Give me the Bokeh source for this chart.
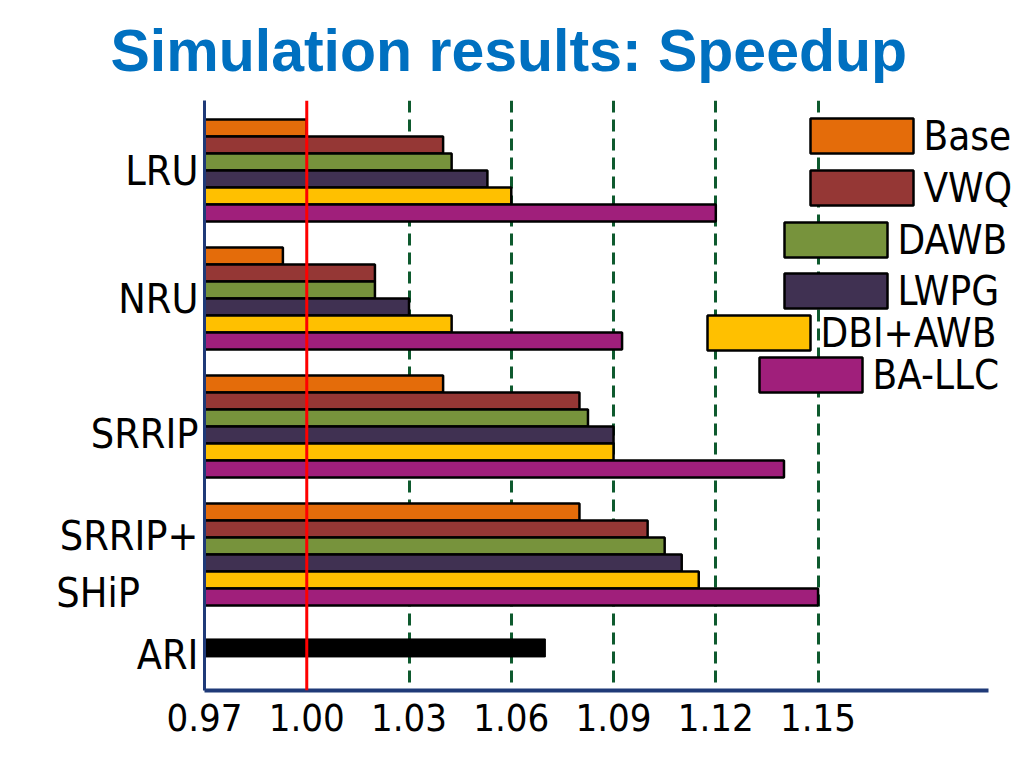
from bokeh.plotting import figure
from bokeh.models import (Range1d, FixedTicker, Span, Label, BoxAnnotation, Title,
                          ColumnDataSource)
from bokeh.embed import file_html
from bokeh.resources import INLINE

# ---------------- data ----------------
policies = ["LRU", "NRU", "SRRIP", "SRRIP+\nSHiP\u00a0\u00a0\u00a0\u00a0\u00a0"]
schemes = ["Base", "VWQ", "DAWB", "LWPG", "DBI+AWB", "BA-LLC"]
colors = ["#E46C0A", "#953735", "#77933C", "#403152", "#FFC000", "#A01F7B"]

base_vals = [1.000, 0.993, 1.040, 1.080]
vwq_vals = [1.040, 1.020, 1.080, 1.100]
dawb_vals = [1.0425, 1.020, 1.0825, 1.105]
lwpg_vals = [1.053, 1.030, 1.090, 1.110]
dbi_vals = [1.060, 1.0425, 1.090, 1.115]
ballc_vals = [1.120, 1.0925, 1.140, 1.150]
series = [base_vals, vwq_vals, dawb_vals, lwpg_vals, dbi_vals, ballc_vals]

ari_label = "ARI"
ari_val = 1.070

baseline = 1.00
x_ticks = [0.97, 1.00, 1.03, 1.06, 1.09, 1.12, 1.15]
x_start, x_axis_end = 0.97, 1.20

# ---------------- layout ----------------
FRAME_L, FRAME_T, FRAME_B = 204, 100, 690      # page px
PPU = (988 - 204) / (x_axis_end - x_start)     # px per data unit
FRAME_R = 1018
x_view_end = x_start + (FRAME_R - FRAME_L) / PPU
GROUP0_PX, GROUP_STEP = 170, 128
ARI_POS = 3.73
BAR_H = 17 / GROUP_STEP
LABEL_SHIFT_PX = [0, 0, 7, 10, 7]

y_top = (FRAME_T - GROUP0_PX) / GROUP_STEP
y_bot = (FRAME_B - GROUP0_PX) / GROUP_STEP

def dx(px):
    return x_start + (px - FRAME_L) / PPU

def dy(py):
    return (py - GROUP0_PX) / GROUP_STEP

p = figure(frame_width=FRAME_R - FRAME_L, frame_height=FRAME_B - FRAME_T,
           x_range=Range1d(x_start, x_view_end), y_range=Range1d(y_bot, y_top),
           output_backend="svg", toolbar_location=None,
           min_border_left=FRAME_L, min_border_right=2,
           min_border_top=FRAME_T, min_border_bottom=70)
p.outline_line_color = None
p.background_fill_color = "white"

# grid
p.ygrid.grid_line_color = None
p.xgrid.ticker = FixedTicker(ticks=[t for t in x_ticks if t > baseline])
p.xgrid.grid_line_color = "#0E5A2E"
p.xgrid.grid_line_width = 3
p.xgrid.grid_line_dash = "12 7"

# bars
n = len(schemes)
for i, (name, col, vals) in enumerate(zip(schemes, colors, series)):
    ys = [g + (i - (n - 1) / 2) * BAR_H for g in range(len(policies))]
    src = ColumnDataSource(dict(y=ys, right=vals))
    p.hbar(y="y", left=x_start, right="right", height=BAR_H, source=src,
           fill_color=col, line_color="black", line_width=2.5)

p.hbar(y=[ARI_POS], left=x_start, right=[ari_val], height=18 / GROUP_STEP,
       fill_color="black", line_color="black", line_width=1)

# baseline red line
p.add_layout(Span(location=baseline, dimension="height", line_color="#FF0000",
                  line_width=3))

# axes
FONT = "DejaVu Sans Condensed"
xa = p.xaxis[0]
xa.ticker = FixedTicker(ticks=x_ticks)
xa.bounds = (x_start, x_axis_end)
xa.major_label_overrides = {t: f"{t:.2f}" for t in x_ticks}
xa.major_label_text_font_size = "38px"
xa.major_label_text_font = FONT
xa.major_label_text_color = "black"
xa.major_tick_line_color = None
xa.minor_tick_line_color = None
xa.axis_line_color = "#1F3A78"
xa.axis_line_width = 4
xa.major_label_standoff = 7

ya = p.yaxis[0]
y_label_pos = [g + s / GROUP_STEP
               for g, s in zip(list(range(len(policies))) + [ARI_POS], LABEL_SHIFT_PX)]
ya.ticker = FixedTicker(ticks=y_label_pos)
ya.major_label_overrides = {t: lab for t, lab in zip(y_label_pos, policies + [ari_label])}
ya.major_label_text_font_size = "41px"
ya.major_label_text_font = FONT
ya.major_label_text_color = "black"
ya.major_tick_line_color = None
ya.minor_tick_line_color = None
ya.axis_line_color = "#1F3A78"
ya.axis_line_width = 3
ya.major_label_standoff = 0

# legend (manual, staggered as in the original)
leg_left_px = [810, 810, 784, 784, 707, 759]
leg_top_px = [118, 170, 222, 273, 315, 357]
LEG_W, LEG_H = 103, 35
for name, col, lx, ty in zip(schemes, colors, leg_left_px, leg_top_px):
    p.add_layout(BoxAnnotation(left=dx(lx), right=dx(lx + LEG_W),
                               top=dy(ty), bottom=dy(ty + LEG_H),
                               fill_color=col, fill_alpha=1.0,
                               line_color="black", line_alpha=1.0, line_width=2.5,
                               level="overlay"))
    p.add_layout(Label(x=dx(lx + LEG_W + 10), y=dy(ty + LEG_H / 2), text=name,
                       text_font=FONT, text_font_size="40px", text_color="black",
                       text_baseline="middle", text_align="left", level="overlay"))

# title
t = Title(text="Simulation results: Speedup", align="left", offset=110 - FRAME_L,
          text_font="Liberation Sans", text_font_style="bold",
          text_font_size="59px", text_color="#0070C0", standoff=30,
          vertical_align="top", text_line_height=0.9)
p.add_layout(t, "above")

open("out.html", "w").write(file_html(p, INLINE))
